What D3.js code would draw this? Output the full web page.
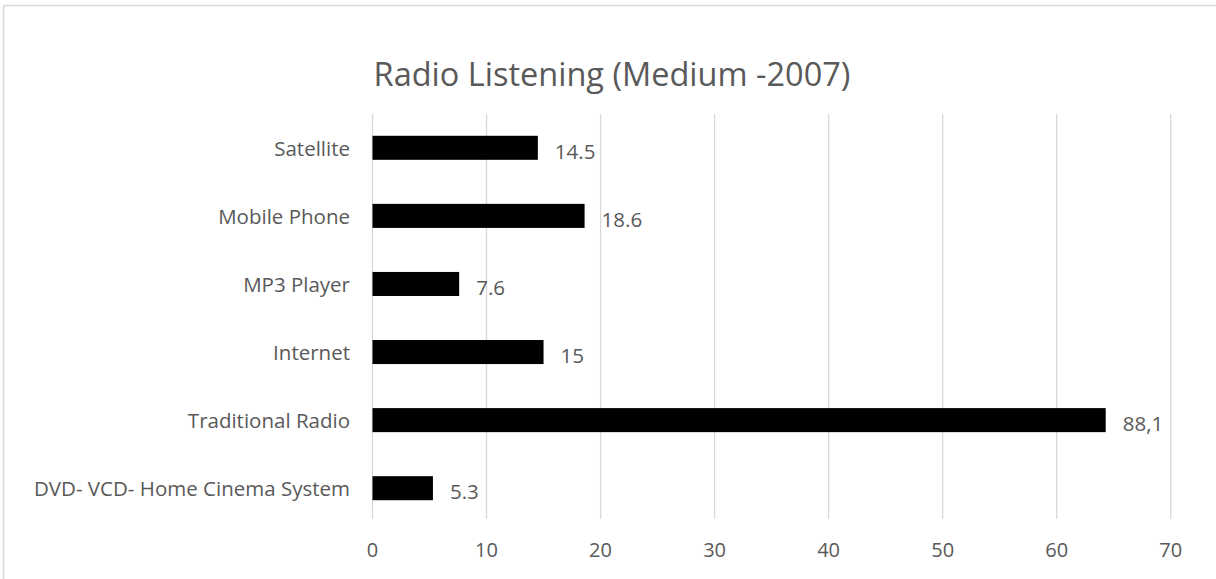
<!DOCTYPE html>
<html>
<head>
<meta charset="utf-8">
<script src="https://cdn.jsdelivr.net/npm/d3@7"></script>
<style>
  body { margin: 0; background: #fff; }
  text { font-family: "Open Sans", sans-serif; fill: #595959; }
</style>
</head>
<body>
<script>
// data, top to bottom
const categories = ["Satellite", "Mobile Phone", "MP3 Player", "Internet", "Traditional Radio", "DVD- VCD- Home Cinema System"];
const values = [14.5, 18.6, 7.6, 15, 64.3, 5.3];
const valueLabels = ["14.5", "18.6", "7.6", "15", "88,1", "5.3"];
const xTicks = [0, 10, 20, 30, 40, 50, 60, 70];
const title = "Radio Listening (Medium -2007)";

const width = 1216, height = 579;
const margin = { top: 114, right: 45, bottom: 57, left: 372.5 };

const svg = d3.select("body").append("svg")
  .attr("width", width)
  .attr("height", height);

// chart border
svg.append("rect")
  .attr("x", 3.5).attr("y", 5.5)
  .attr("width", width + 10).attr("height", height + 10)
  .attr("fill", "none").attr("stroke", "#d9d9d9").attr("stroke-width", 1.5);

const x = d3.scaleLinear()
  .domain([0, 70])
  .range([margin.left, 1170.7]);

const y = d3.scaleBand()
  .domain(categories)
  .range([margin.top, 522])
  .paddingInner(0.647)
  .paddingOuter(0.32);

// gridlines
svg.append("g")
  .selectAll("line")
  .data(xTicks)
  .join("line")
  .attr("x1", d => x(d)).attr("x2", d => x(d))
  .attr("y1", margin.top).attr("y2", 519)
  .attr("stroke", "#d9d9d9").attr("stroke-width", 1.3);

// tick labels
svg.append("g")
  .selectAll("text")
  .data(xTicks)
  .join("text")
  .attr("x", d => x(d))
  .attr("y", 550)
  .attr("dy", "0.35em")
  .attr("text-anchor", "middle")
  .style("font-size", "20px")
  .text(d => d);

// bars
svg.append("g")
  .selectAll("rect")
  .data(categories)
  .join("rect")
  .attr("x", x(0))
  .attr("y", d => y(d))
  .attr("width", (d, i) => x(values[i]) - x(0))
  .attr("height", y.bandwidth())
  .attr("fill", "#000");

// value labels
svg.append("g")
  .selectAll("text")
  .data(categories)
  .join("text")
  .attr("x", (d, i) => x(values[i]) + 17)
  .attr("y", d => y(d) + y.bandwidth() / 2 + 4)
  .attr("dy", "0.35em")
  .style("font-size", "20.5px")
  .text((d, i) => valueLabels[i]);

// category labels
svg.append("g")
  .selectAll("text")
  .data(categories)
  .join("text")
  .attr("x", 350)
  .attr("y", d => y(d) + y.bandwidth() / 2 + 1)
  .attr("dy", "0.35em")
  .attr("text-anchor", "end")
  .style("font-size", "20.5px")
  .text(d => d);

// title
svg.append("text")
  .attr("x", 612)
  .attr("y", 75)
  .attr("dy", "0.35em")
  .attr("text-anchor", "middle")
  .style("font-size", "32.5px")
  .text(title);
</script>
</body>
</html>
